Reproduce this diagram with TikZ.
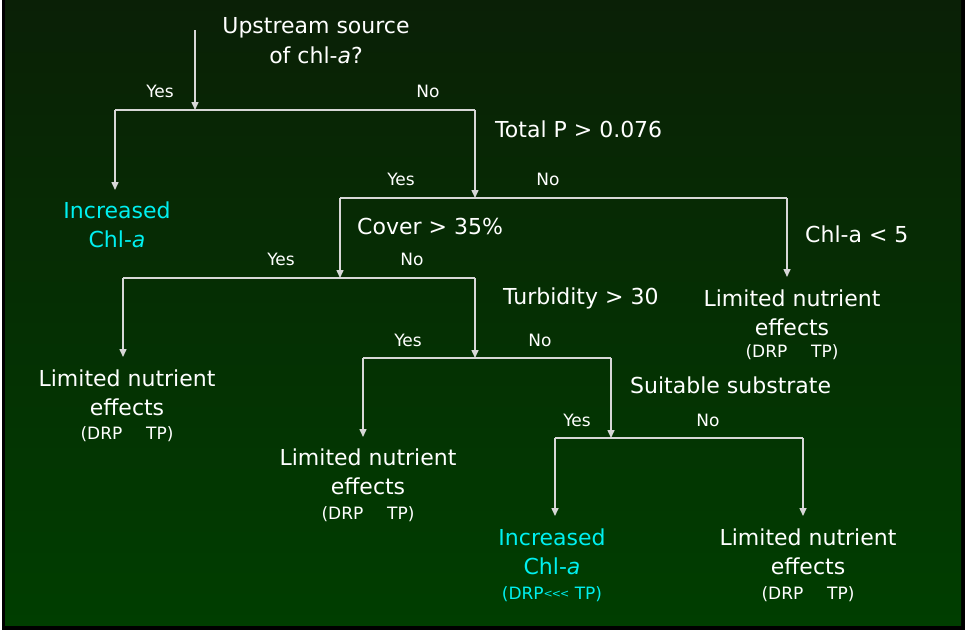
\documentclass[tikz,border=0pt]{standalone}
\usepackage{fontspec}
\setmainfont{DejaVu Sans}
\usetikzlibrary{arrows.meta}
\definecolor{bgtop}{RGB}{10,32,6}
\definecolor{bgbot}{RGB}{0,62,0}
\definecolor{linec}{RGB}{215,215,215}
\definecolor{cyantext}{RGB}{0,240,240}
\begin{document}
\begin{tikzpicture}[x=1pt,y=-1pt,
  big/.style={font=\fontsize{22}{30}\selectfont, text=white, inner sep=0pt, anchor=base},
  bigl/.style={big, anchor=base west},
  small/.style={font=\fontsize{17}{20}\selectfont, text=white, inner sep=0pt, anchor=base},
  hi/.style={text=cyantext},
  ln/.style={draw=linec, line width=1.5pt},
  arr/.style={ln, -{Triangle[width=7pt,length=8pt]}}]
\useasboundingbox (0,0) rectangle (965,630);
\fill[black] (0,0) rectangle (965,630);
\fill[white] (0,0) rectangle (1.5,630);
\shade[top color=bgtop, bottom color=bgbot] (5,0) rectangle (961,625);

% questions
\node[big] (q1a) at (316,33) {Upstream source};
\node[big] (q1b) at (316,63) {of chl-\textit{a}?};
\node[bigl] (q2) at (495,137) {Total P > 0.076};
\node[bigl] (q3) at (357,234) {Cover > 35\%};
\node[bigl] (q3b) at (805,242) {Chl-a < 5};
\node[bigl] (q4) at (503,304) {Turbidity > 30};
\node[bigl] (q5) at (630,393) {Suitable substrate};

% yes / no labels
\node[small] (y1) at (160,97) {Yes};
\node[small] (n1) at (428,97) {No};
\node[small] (y2) at (401,185) {Yes};
\node[small] (n2) at (548,185) {No};
\node[small] (y3) at (281,265) {Yes};
\node[small] (n3) at (412,265) {No};
\node[small] (y4) at (408,346) {Yes};
\node[small] (n4) at (540,346) {No};
\node[small] (y5) at (577,426) {Yes};
\node[small] (n5) at (708,426) {No};

% leaves
\node[big,hi] (inc1a) at (117,218) {Increased};
\node[big,hi] (inc1b) at (117,247) {Chl-\textit{a}};

\node[big] (lim1a) at (792,306) {Limited nutrient};
\node[big] (lim1b) at (792,335) {effects};
\node[small] (lim1c) at (792,357) {(DRP\hspace{1.4em}TP)};

\node[big] (lim2a) at (127,386) {Limited nutrient};
\node[big] (lim2b) at (127,415) {effects};
\node[small] (lim2c) at (127,439) {(DRP\hspace{1.4em}TP)};

\node[big] (lim3a) at (368,465) {Limited nutrient};
\node[big] (lim3b) at (368,494) {effects};
\node[small] (lim3c) at (368,519) {(DRP\hspace{1.4em}TP)};

\node[big,hi] (inc2a) at (552,545) {Increased};
\node[big,hi] (inc2b) at (552,574) {Chl-\textit{a}};
\node[small,hi] (inc2c) at (552,599) {(DRP{\fontsize{11}{11}\selectfont\raisebox{1.5pt}{<\kern-1pt<\kern-1pt<}} TP)};

\node[big] (lim4a) at (808,545) {Limited nutrient};
\node[big] (lim4b) at (808,574) {effects};
\node[small] (lim4c) at (808,599) {(DRP\hspace{1.4em}TP)};

% junction coordinates
\coordinate (r0) at (195,30);
\coordinate (j1) at (195,110);
\coordinate (h1l) at (115,110);
\coordinate (h1r) at (475,110);
\coordinate (e1) at (115,190);
\coordinate (j2) at (475,198);
\coordinate (h2l) at (340,198);
\coordinate (h2r) at (787,198);
\coordinate (e2r) at (787,277);
\coordinate (j3) at (340,278);
\coordinate (h3l) at (123,278);
\coordinate (h3r) at (475,278);
\coordinate (e3l) at (123,357);
\coordinate (j4) at (475,358);
\coordinate (h4l) at (363,358);
\coordinate (h4r) at (611,358);
\coordinate (e4l) at (363,437);
\coordinate (j5) at (611,438);
\coordinate (h5l) at (555,438);
\coordinate (h5r) at (803,438);
\coordinate (e5l) at (555,516);
\coordinate (e5r) at (803,516);

% connectors
\draw[arr] (r0) -- (j1);
\draw[ln] (h1l) -- (h1r);
\draw[arr] (h1l) -- (e1);
\draw[arr] (h1r) -- (j2);
\draw[ln] (h2l) -- (h2r);
\draw[arr] (h2l) -- (j3);
\draw[arr] (h2r) -- (e2r);
\draw[ln] (h3l) -- (h3r);
\draw[arr] (h3l) -- (e3l);
\draw[arr] (h3r) -- (j4);
\draw[ln] (h4l) -- (h4r);
\draw[arr] (h4l) -- (e4l);
\draw[arr] (h4r) -- (j5);
\draw[ln] (h5l) -- (h5r);
\draw[arr] (h5l) -- (e5l);
\draw[arr] (h5r) -- (e5r);
\end{tikzpicture}
\end{document}
